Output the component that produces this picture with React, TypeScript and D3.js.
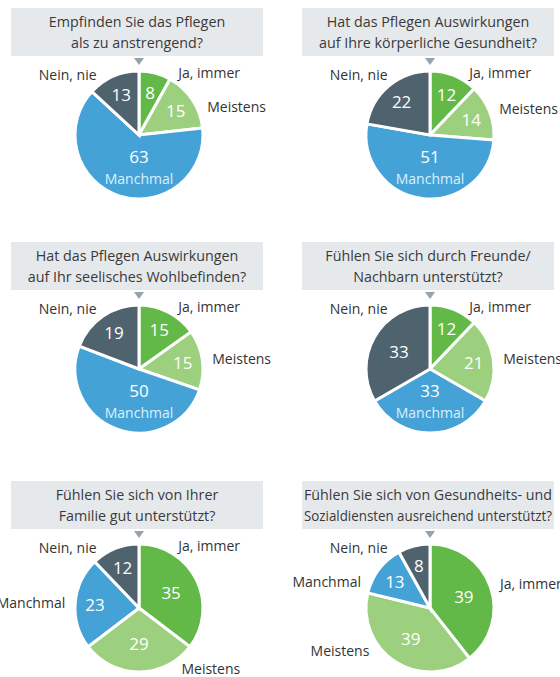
import { useEffect, useRef } from "react";
import * as d3 from "d3";

const categories = ["Ja, immer", "Meistens", "Manchmal", "Nein, nie"];
const colors = ["#62b947", "#9dd07e", "#45a2d7", "#4f636e"];

const questions = [
  ["Empfinden Sie das Pflegen", "als zu anstrengend?"],
  ["Hat das Pflegen Auswirkungen", "auf Ihre körperliche Gesundheit?"],
  ["Hat das Pflegen Auswirkungen", "auf Ihr seelisches Wohlbefinden?"],
  ["Fühlen Sie sich durch Freunde/", "Nachbarn unterstützt?"],
  ["Fühlen Sie sich von Ihrer", "Familie gut unterstützt?"],
  ["Fühlen Sie sich von Gesundheits- und", "Sozialdiensten ausreichend unterstützt?"],
];

const jaImmer = [8, 12, 15, 12, 35, 39];
const meistens = [15, 14, 15, 21, 29, 39];
const manchmal = [63, 51, 50, 33, 23, 13];
const neinNie = [13, 22, 19, 33, 12, 8];

const WIDTH = 560;
const HEIGHT = 677;
const FONT = "'Open Sans', 'Noto Sans', sans-serif";

export default function App() {
  const svgRef = useRef<SVGSVGElement | null>(null);

  useEffect(() => {
    if (!svgRef.current) return;
    const svg = d3.select(svgRef.current);
    svg.selectAll("*").remove();

    const boxWidth = 252;
    const boxHeight = 48;
    const radius = 64;
    const deg = Math.PI / 180;
    const colX = d3.scaleOrdinal<number, number>().domain([0, 1]).range([11, 302]);
    const rowY = d3.scaleOrdinal<number, number>().domain([0, 1, 2]).range([8, 242, 481]);

    const pie = d3
      .pie<number>()
      .sort(null)
      .value((d) => d);
    const arc = d3.arc<d3.PieArcDatum<number>>().innerRadius(0).outerRadius(radius);

    questions.forEach((lines, i) => {
      const bx = colX(i % 2);
      const by = rowY(Math.floor(i / 2));
      const cx = bx + boxWidth / 2 + 2;
      const cy = by + 127;
      const vals = [jaImmer[i], meistens[i], manchmal[i], neinNie[i]];

      const g = svg.append("g");

      // title box + pointer
      g.append("rect")
        .attr("x", bx)
        .attr("y", by)
        .attr("width", boxWidth)
        .attr("height", boxHeight)
        .attr("fill", "#e6e9ec");
      g.append("path")
        .attr(
          "d",
          `M${cx - 5},${by + boxHeight + 2}L${cx + 5},${by + boxHeight + 2}L${cx},${by + boxHeight + 9}Z`
        )
        .attr("fill", "#95a3ad");
      const title = g
        .append("text")
        .attr("x", bx + boxWidth / 2)
        .attr("y", by + 19)
        .attr("text-anchor", "middle")
        .attr("font-family", FONT)
        .attr("font-size", 14.3)
        .attr("fill", "#3a3a3a");
      title
        .selectAll("tspan")
        .data(lines)
        .join("tspan")
        .attr("x", bx + boxWidth / 2)
        .attr("dy", (_, k) => (k === 0 ? 0 : 21))
        .text((d) => d)
        .each(function () {
          const node = this as SVGTSpanElement;
          const len = node.getComputedTextLength();
          if (len > boxWidth - 4) {
            d3.select(node).attr("textLength", boxWidth - 4).attr("lengthAdjust", "spacingAndGlyphs");
          }
        });

      const arcs = pie(vals);
      const pg = g.append("g").attr("transform", `translate(${cx},${cy})`);

      pg.selectAll("path")
        .data(arcs)
        .join("path")
        .attr("d", arc)
        .attr("fill", (_, k) => colors[k])
        .attr("stroke", "#ffffff")
        .attr("stroke-width", 3)
        .attr("stroke-linejoin", "miter");

      const R = radius + 10;
      const outside: { k: number; side: number; y: number }[] = [];

      arcs.forEach((a, k) => {
        const mid = (a.startAngle + a.endAngle) / 2;
        const pct = a.value;
        const inside = k === 2 && a.startAngle < Math.PI && a.endAngle > Math.PI;

        if (inside) {
          pg.append("text")
            .attr("x", 0)
            .attr("y", radius * 0.33)
            .attr("text-anchor", "middle")
            .attr("dominant-baseline", "central")
            .attr("font-family", FONT)
            .attr("font-size", 17)
            .attr("fill", "#ffffff")
            .text(pct);
          pg.append("text")
            .attr("x", 0)
            .attr("y", radius * 0.68)
            .attr("text-anchor", "middle")
            .attr("dominant-baseline", "central")
            .attr("font-family", FONT)
            .attr("font-size", 14)
            .attr("fill", "#dcf0fb")
            .text(categories[k]);
          return;
        }

        const vr = pct < 25 ? radius * 0.69 : radius * 0.56;
        pg.append("text")
          .attr("x", Math.sin(mid) * vr)
          .attr("y", -Math.cos(mid) * vr)
          .attr("text-anchor", "middle")
          .attr("dominant-baseline", "central")
          .attr("font-family", FONT)
          .attr("font-size", 17)
          .attr("fill", "#ffffff")
          .text(pct);

        let ang = mid > Math.PI ? mid - 2 * Math.PI : mid;
        const touchesTop = a.startAngle < 1e-6 || a.endAngle > 2 * Math.PI - 1e-6;
        if (touchesTop && Math.abs(ang) < 65 * deg) {
          // slices next to the pointer get their label up near the top
          ang = ang >= 0 ? 32 * deg : -35 * deg;
        } else if (ang >= 0) ang = Math.min(Math.max(ang, 30 * deg), 145 * deg);
        else ang = Math.max(Math.min(ang, -35 * deg), -125 * deg);
        outside.push({ k, side: ang >= 0 ? 1 : -1, y: -Math.cos(ang) * R });
      });

      // keep labels on the same side apart, then put them back on the ring
      const minGap = 34;
      [1, -1].forEach((side) => {
        const list = outside.filter((o) => o.side === side).sort((p, q) => p.y - q.y);
        for (let j = 1; j < list.length; j++) {
          if (list[j].y - list[j - 1].y < minGap) list[j].y = list[j - 1].y + minGap;
        }
      });

      outside.forEach((o) => {
        const x = o.side * Math.sqrt(Math.max(R * R - o.y * o.y, 0));
        pg.append("text")
          .attr("x", x)
          .attr("y", o.y)
          .attr("text-anchor", o.side > 0 ? "start" : "end")
          .attr("dominant-baseline", "central")
          .attr("font-family", FONT)
          .attr("font-size", 14)
          .attr("fill", "#333333")
          .text(categories[o.k]);
      });
    });
  }, []);

  return (
    <svg
      ref={svgRef}
      width={WIDTH}
      height={HEIGHT}
      style={{ position: "absolute", left: 0, top: 0, background: "#ffffff" }}
    />
  );
}
